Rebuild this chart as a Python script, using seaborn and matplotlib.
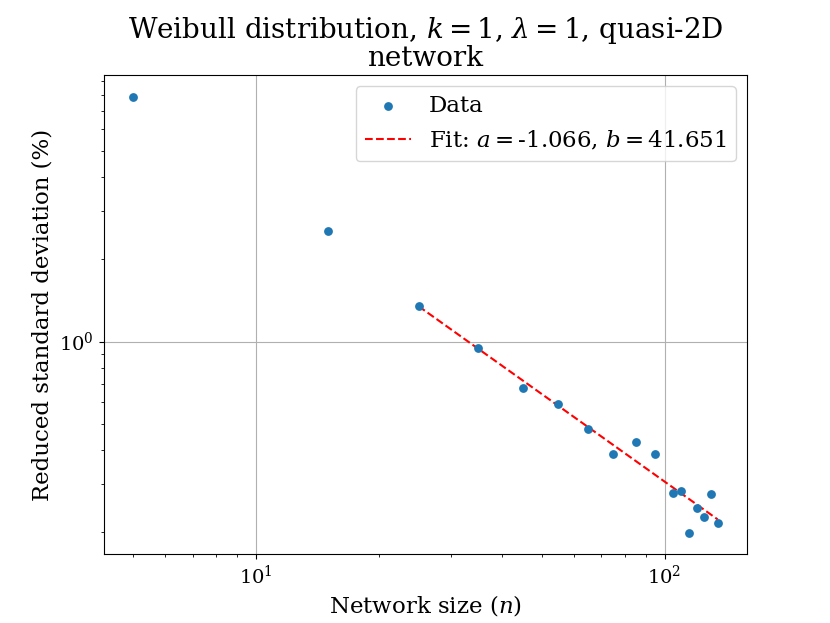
import matplotlib
matplotlib.use("Agg")
import matplotlib.pyplot as plt
import seaborn as sns
import numpy as np
import pandas as pd

# network sizes and reduced standard deviation (%)
network_size = [5, 15, 25, 35, 45, 55, 65, 75, 85, 95, 105, 110, 115, 120, 125, 130, 135]
reduced_std = [7.89, 2.55, 1.355, 0.951, 0.678, 0.593, 0.480, 0.389, 0.430, 0.389,
               0.280, 0.2845, 0.1997, 0.2465, 0.2286, 0.2775, 0.2173]

# power law fit y = b * n^a, fitted from n >= 25
fit_a = -1.066
fit_b = 41.651
fit_start = 25

plt.rcParams["font.family"] = "DejaVu Serif"
plt.rcParams["mathtext.fontset"] = "dejavuserif"
plt.rcParams["xtick.labelsize"] = 14
plt.rcParams["ytick.labelsize"] = 14

df = pd.DataFrame({"n": network_size, "std": reduced_std})
fit_df = df[df["n"] >= fit_start].copy()
fit_df["fit"] = fit_b * fit_df["n"].astype(float) ** fit_a

fig, ax = plt.subplots(figsize=(8.3, 6.23), dpi=100)
sns.scatterplot(data=df, x="n", y="std", ax=ax, color="#1f77b4", s=40,
                linewidth=0, label="Data", zorder=3)
sns.lineplot(data=fit_df, x="n", y="fit", ax=ax, color="red", linestyle="--",
             linewidth=1.5, label=f"Fit: $a=${fit_a}, $b=${fit_b}", zorder=2)

ax.set_xscale("log")
ax.set_yscale("log")
ax.grid(True, which="major", color="#b0b0b0", linewidth=0.8)
ax.set_axisbelow(True)

ax.set_title("Weibull distribution, $k=1$, $\\lambda=1$, quasi-2D\nnetwork",
             fontsize=20, linespacing=0.95)
ax.set_xlabel("Network size ($n$)", fontsize=16.5)
ax.set_ylabel("Reduced standard deviation (%)", fontsize=16.5)
ax.legend(loc="upper right", fontsize=16.5)

fig.savefig("out.png", dpi=100)
